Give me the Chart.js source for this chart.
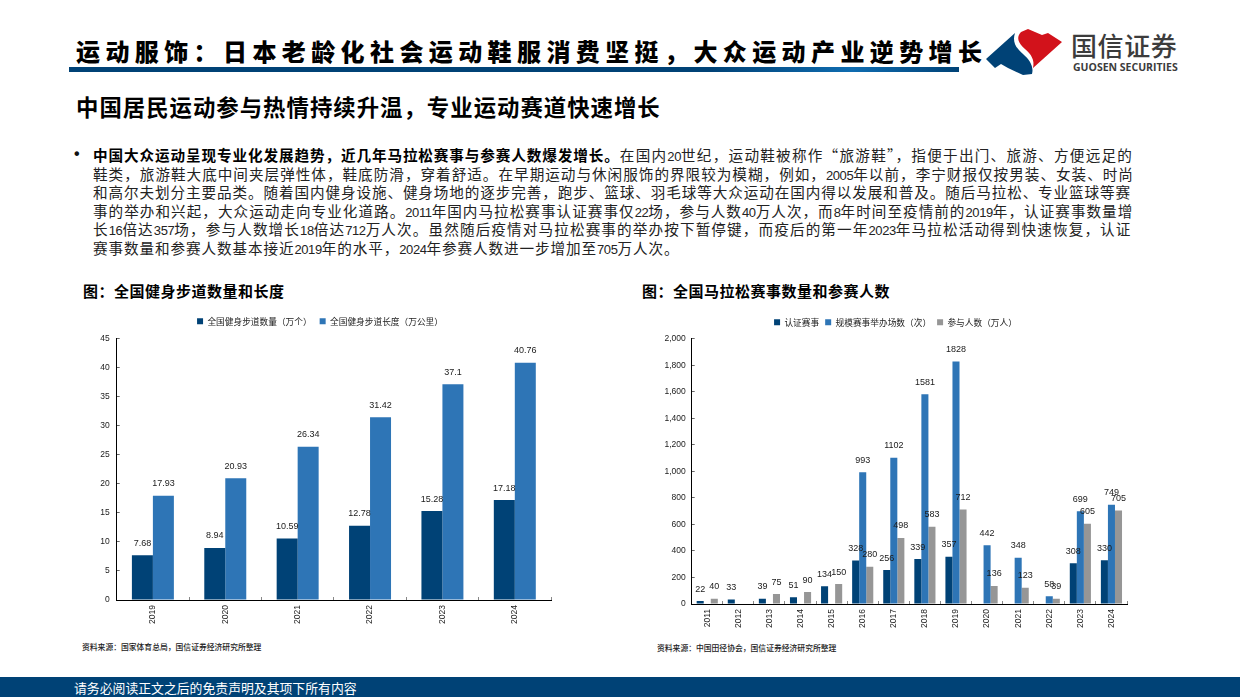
<!DOCTYPE html>
<html lang="zh"><head><meta charset="utf-8">
<script src="https://cdn.jsdelivr.net/npm/chart.js@4"></script>
<style>
html,body{margin:0;padding:0;background:#fff;width:1240px;height:697px;overflow:hidden}
body{position:relative;font-family:"Noto Sans CJK SC",sans-serif;color:#111}
.a{position:absolute;white-space:nowrap}
.cjk{font-family:"Noto Sans CJK SC",sans-serif}
.body{left:93px;font-size:14.6px;line-height:18px;letter-spacing:.9px;color:#222}
.n{font-family:"Liberation Sans",sans-serif;font-size:13px;letter-spacing:-.4px}
canvas{position:absolute}
</style></head><body>
<div class="a cjk" style="left:76px;top:33px;font-size:24px;line-height:36px;font-weight:900;letter-spacing:5.4px;color:#000">运动服饰：日本老龄化社会运动鞋服消费坚挺，大众运动产业逆势增长</div>
<div class="a" style="left:69px;top:67px;width:890px;height:5px;background:linear-gradient(90deg,#004276 0%,#004276 72%,#0f6cb0 88%,#004276 100%)"></div>
<svg class="a" style="left:0;top:0" width="1240" height="90" viewBox="0 0 1240 90">
<path d="M986 59 L1015 33 C1012 42 1016 48 1023 54 C1030 60 1034 67 1032 74 L1023 75 L1008 68 L1001 64 L995 68 Z" fill="#004276"/>
<path d="M1021 32 L1028 29 L1042 35 L1048 33 L1062 42 L1033 68 C1035 60 1031 54 1025 49 C1018 43 1016 37 1021 32 Z" fill="#d2121b"/>
</svg>
<div class="a cjk" style="left:1071px;top:28px;font-size:26px;line-height:34px;letter-spacing:.6px;color:#3c3c3c;font-weight:500">国信证券</div>
<div class="a" style="left:1073px;top:61px;font-size:10.5px;line-height:13px;font-weight:700;color:#3c3c3c;font-family:'Open Sans',sans-serif">GUOSEN SECURITIES</div>
<div class="a cjk" style="left:76px;top:89px;font-size:22.4px;line-height:34px;font-weight:700;letter-spacing:1px;color:#000">中国居民运动参与热情持续升温，专业运动赛道快速增长</div>
<div class="a" style="left:74px;top:145px;font-size:16px;line-height:18px;font-weight:700;font-family:'Liberation Sans',sans-serif">•</div>
<div class="a body" style="top:146px"><b style="color:#000">中国大众运动呈现专业化发展趋势，近几年马拉松赛事与参赛人数爆发增长。</b><span style="letter-spacing:1.25px">在国内<span class="n">20</span>世纪，运动鞋被称作“旅游鞋”，指便于出门、旅游、方便远足的</span></div>
<div class="a body" style="top:164.6px;letter-spacing:1px">鞋类，旅游鞋大底中间夹层弹性体，鞋底防滑，穿着舒适。在早期运动与休闲服饰的界限较为模糊，例如，<span class="n">2005</span>年以前，李宁财报仅按男装、女装、时尚</div>
<div class="a body" style="top:183.2px">和高尔夫划分主要品类。随着国内健身设施、健身场地的逐步完善，跑步、篮球、羽毛球等大众运动在国内得以发展和普及。随后马拉松、专业篮球等赛</div>
<div class="a body" style="top:201.8px;letter-spacing:1.02px">事的举办和兴起，大众运动走向专业化道路。<span class="n">2011</span>年国内马拉松赛事认证赛事仅<span class="n">22</span>场，参与人数<span class="n">40</span>万人次，而<span class="n">8</span>年时间至疫情前的<span class="n">2019</span>年，认证赛事数量增</div>
<div class="a body" style="top:220.4px;letter-spacing:1.12px">长<span class="n">16</span>倍达<span class="n">357</span>场，参与人数增长<span class="n">18</span>倍达<span class="n">712</span>万人次。虽然随后疫情对马拉松赛事的举办按下暂停键，而疫后的第一年<span class="n">2023</span>年马拉松活动得到快速恢复，认证</div>
<div class="a body" style="top:239px">赛事数量和参赛人数基本接近<span class="n">2019</span>年的水平，<span class="n">2024</span>年参赛人数进一步增加至<span class="n">705</span>万人次。</div>
<div class="a cjk" style="left:83px;top:281px;font-size:15px;line-height:20px;font-weight:700;letter-spacing:.5px;color:#000">图：全国健身步道数量和长度</div>
<div class="a cjk" style="left:642px;top:281px;font-size:15px;line-height:20px;font-weight:700;letter-spacing:.5px;color:#000">图：全国马拉松赛事数量和参赛人数</div>
<canvas id="c1" width="471" height="340" style="left:89px;top:300px;width:471px;height:340px"></canvas>
<canvas id="c2" width="476" height="340" style="left:664px;top:300px;width:476px;height:340px"></canvas>
<div class="a cjk" style="left:82px;top:641px;font-size:7.8px;line-height:12px;font-weight:500;color:#222">资料来源：国家体育总局，国信证券经济研究所整理</div>
<div class="a cjk" style="left:657px;top:642px;font-size:7.8px;line-height:12px;font-weight:500;color:#222">资料来源：中国田径协会，国信证券经济研究所整理</div>
<div class="a" style="left:0;top:677px;width:1240px;height:20px;background:#004276"></div>
<div class="a cjk" style="left:74px;top:678px;font-size:12.85px;line-height:19px;color:#fff">请务必阅读正文之后的免责声明及其项下所有内容</div>
<script>
const yearsA = ["2019","2020","2021","2022","2023","2024"];
const trailCount = [7.68,8.94,10.59,12.78,15.28,17.18];
const trailLength = [17.93,20.93,26.34,31.42,37.1,40.76];
const yearsB = ["2011","2012","2013","2014","2015","2016","2017","2018","2019","2020","2021","2022","2023","2024"];
const certified = [22,33,39,51,134,328,256,339,357,null,null,null,308,330];
const scaleRaces = [null,null,null,null,null,993,1102,1581,1828,442,348,58,699,749];
const participants = [40,null,75,90,150,280,498,583,712,136,123,39,605,705];

const NAVY="#004276", BLUE="#2e75b6", GREY="#969696";
const valueLabels = {
  id:"valueLabels",
  afterDatasetsDraw(chart){
    const ctx=chart.ctx; ctx.save();
    ctx.font='9px "Liberation Sans",sans-serif';
    ctx.fillStyle="#1a1a1a"; ctx.textAlign="center"; ctx.textBaseline="middle";
    chart.data.datasets.forEach((ds,i)=>{
      chart.getDatasetMeta(i).data.forEach((el,j)=>{
        const v=ds.data[j];
        if(v===null) return;
        ctx.fillText(String(v),el.x,el.y-12);
      });
    });
    ctx.restore();
  }
};
function make(id,labels,datasets,opt){
  const legendGap = {
    id:"legendGap",
    beforeInit(chart){
      const fit=chart.legend.fit;
      chart.legend.fit=function(){fit.call(this);this.height+=opt.legendExtra;};
    }
  };
  return new Chart(document.getElementById(id),{
    type:"bar",
    data:{labels,datasets},
    plugins:[legendGap,valueLabels],
    options:{
      responsive:false,animation:false,
      layout:{padding:{top:opt.top,right:opt.right,left:0,bottom:0}},
      datasets:{bar:{categoryPercentage:opt.cat,barPercentage:1}},
      plugins:{
        tooltip:{enabled:false},
        legend:{position:"top",align:"center",
          labels:{boxWidth:6,boxHeight:6,padding:opt.legendPad,color:"#222",
            font:{family:'"Noto Sans CJK SC",sans-serif',size:8.7}}}
      },
      scales:{
        x:{
          afterFit(s){s.height=opt.xh;},
          border:{color:"#000",width:1},
          grid:{drawOnChartArea:false,tickLength:-3,tickColor:"#888",offset:true},
          ticks:{maxRotation:90,minRotation:90,padding:opt.xpad,color:"#222",autoSkip:false,
            font:{family:'"Liberation Sans",sans-serif',size:8.5}}
        },
        y:{
          afterFit(s){s.width=opt.yw;},
          min:0,max:opt.max,
          border:{color:"#000",width:1},
          grid:{drawOnChartArea:false,tickLength:-3,tickColor:"#666"},
          ticks:{stepSize:opt.step,padding:opt.ypad,color:"#222",
            font:{family:'"Liberation Sans",sans-serif',size:8.5},
            callback:v=>v.toLocaleString("en-US")}
        }
      }
    }
  });
}
make("c1",yearsA,[
  {label:"全国健身步道数量（万个）",data:trailCount,backgroundColor:NAVY},
  {label:"全国健身步道长度（万公里）",data:trailLength,backgroundColor:BLUE}
],{top:9,right:9,cat:.58,max:45,step:5,xh:40,yw:27.7,legendPad:8,legendExtra:2.5,xpad:8,ypad:10});
make("c2",yearsB,[
  {label:"认证赛事",data:certified,backgroundColor:NAVY},
  {label:"规模赛事举办场数（次）",data:scaleRaces,backgroundColor:BLUE},
  {label:"参与人数（万人）",data:participants,backgroundColor:GREY}
],{top:12,right:13,cat:.68,max:2000,step:200,xh:36,yw:27.7,legendPad:6,legendExtra:2,xpad:8,ypad:9});
</script>
</body></html>
